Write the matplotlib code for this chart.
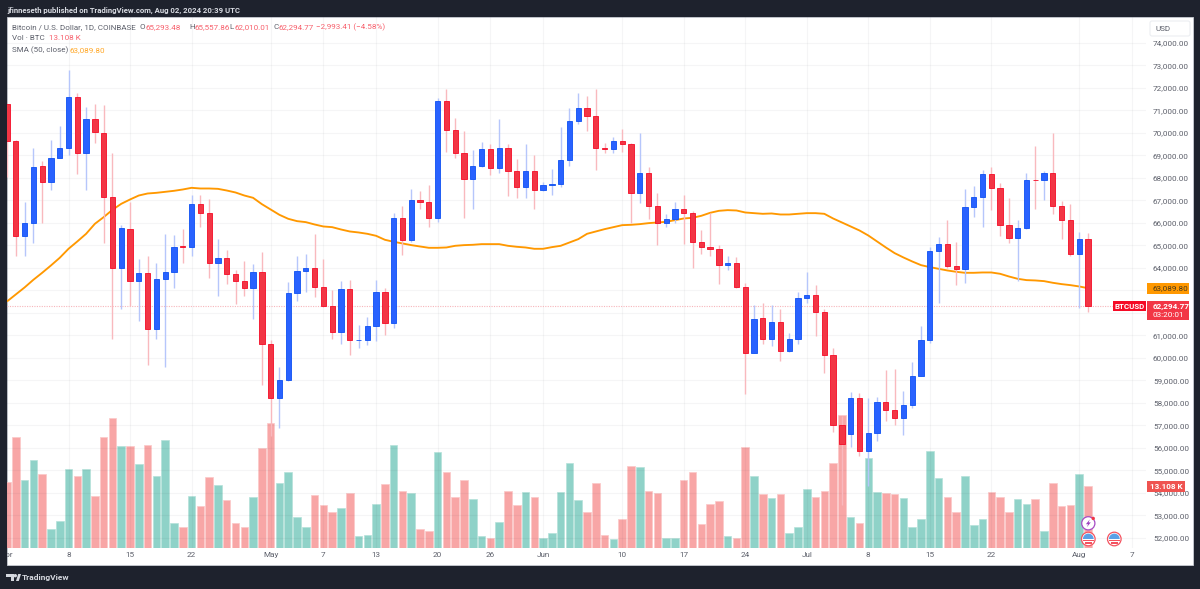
import numpy as np
import pandas as pd
import matplotlib
matplotlib.use("Agg")
import matplotlib.dates as mdates
from matplotlib import pyplot as plt
from matplotlib.patches import Circle, Polygon, Rectangle, FancyBboxPatch, Wedge
from matplotlib.ticker import FuncFormatter
from matplotlib.transforms import Affine2D

# daily BTCUSD candles, 1 Apr - 2 Aug 2024
opens = [71280, 69640, 65430, 65970, 68510, 67820, 68870, 69330, 71590, 69110,
         70620, 70000, 67120, 64000, 65730, 63430, 63770, 61260, 63490, 63820,
         64960, 64920, 66820, 66410, 64230, 64440, 63730, 63420, 63080, 63820,
         60590, 58220, 59020, 62890, 63860, 63980, 63150, 62290, 61140, 63060,
         60770, 60800, 61430, 62910, 61520, 66220, 65240, 67030, 66900, 66230,
         71420, 70110, 69110, 67920, 68510, 69270, 68450, 69330, 68290, 67570, 68310,
         67450, 67680, 67720, 68780, 70530, 71100, 70760, 69320, 69290, 69610,
         69480, 67300, 68220, 66720, 66000, 66160, 66590, 66450, 65120, 64910,
         64830, 64100, 64220, 63140, 60230, 61760, 60810, 61570, 60310, 60840,
         62650, 62800, 62010, 60130, 57020, 56620, 58210, 55840, 56660, 58030,
         57690, 57300, 57880, 59200, 60800, 64750, 65060, 64080, 63950, 66690,
         67150, 68170, 67540, 65910, 65340, 65760, 67910, 67880, 68230, 66750, 66140,
         64590, 65293.48]
closes = [69640, 65430, 65970, 68480, 67820, 68870, 69330, 71590, 69110, 70620,
          70010, 67120, 64000, 65760, 63430, 63770, 61260, 63490, 63820, 64940,
          64930, 66820, 66410, 64230, 64440, 63730, 63420, 63080, 63820, 60590,
          58220, 59020, 62890, 63860, 63980, 63150, 62290, 61140, 63060, 60770,
          60800, 61430, 62910, 61520, 66220, 65240, 67030, 66900, 66230, 71420,
          70110, 69110, 67920, 68510, 69270, 68450, 69330, 68290, 67570, 68310, 67450,
          67680, 67720, 68780, 70530, 71100, 70760, 69300, 69290, 69610, 69480,
          67300, 68220, 66720, 66000, 66160, 66590, 66450, 65120, 64910, 64830,
          64100, 64220, 63140, 60230, 61740, 60810, 61570, 60310, 60840, 62650,
          62800, 62010, 60130, 57020, 56180, 58210, 55840, 56660, 58030, 57690,
          57300, 57880, 59200, 60800, 64750, 65060, 64080, 63950, 66690, 67150,
          68170, 67540, 65910, 65340, 65760, 67910, 67880, 68230, 66750, 66140, 64590,
          65288.18, 62294.77]
highs = [71280, 69680, 66910, 69310, 68740, 69670, 70310, 72780, 71760, 71150,
         71280, 71250, 69080, 65880, 66900, 64370, 64510, 64200, 65480, 65450,
         65710, 67240, 67210, 67060, 65270, 64770, 63880, 64310, 64160, 64710,
         60770, 59600, 63360, 64510, 64620, 65510, 64400, 63000, 63420, 63450,
         61460, 61820, 63450, 63090, 66450, 66750, 67480, 67390, 67680, 71550,
         71950, 70650, 70070, 69250, 69590, 69510, 70590, 69510, 68840, 69510, 69020,
         67830, 68390, 70260, 71080, 71770, 71620, 71950, 69520, 69820, 70160,
         69540, 69990, 68470, 67300, 66400, 66910, 67240, 66540, 65680, 66410,
         65000, 64510, 64480, 63310, 62350, 62440, 62350, 62160, 61090, 62910,
         63790, 63210, 62160, 60410, 57390, 58460, 58430, 58190, 58260, 59460,
         59510, 58530, 59830, 61400, 64930, 65370, 66110, 65120, 67490, 67620,
         68350, 68470, 67760, 67090, 66130, 68200, 69400, 68290, 69980, 66970, 66810,
         65570, 65557.86]
lows = [68050, 64530, 64500, 65080, 65970, 67460, 68870, 69020, 68170, 67460,
        69520, 65110, 60810, 62160, 62310, 61610, 59660, 60810, 59570, 63110,
        64230, 64500, 65800, 63540, 62720, 63290, 62370, 62720, 61740, 58800,
        56500, 56890, 58980, 62540, 62900, 62690, 62250, 60840, 60600, 60130,
        60440, 60560, 60720, 61020, 61300, 64570, 65120, 66620, 65830, 66050,
        69150, 68880, 66230, 66590, 68480, 68100, 68220, 67200, 67080, 67080, 66590,
        67390, 67250, 67570, 68530, 70380, 70080, 68320, 69110, 69110, 69150,
        66000, 66880, 66170, 64990, 65800, 65970, 65060, 64000, 64620, 64500,
        63290, 63880, 63110, 58400, 60200, 60620, 60530, 59850, 60260, 60600,
        62430, 60970, 59330, 56680, 53470, 56010, 55610, 54280, 56280, 57170,
        57020, 56550, 57760, 59170, 60660, 62410, 63980, 63230, 63300, 66260,
        65800, 66560, 65420, 65080, 63390, 65710, 66630, 67020, 66400, 65280, 64500,
        62200, 62010.01]
# volume in thousands of BTC
volumes = [13.96, 23.6, 14.53, 18.71, 15.66, 4.11, 5.81, 16.73, 15.24, 16.73,
           11.06, 23.6, 27.57, 21.62, 21.76, 17.79, 21.9, 15.38, 22.89, 5.24,
           4.54, 11.06, 9.0, 15.1, 13.32, 10.28, 5.39, 4.54, 10.77, 21.19,
           26.65, 13.75, 16.09, 6.52, 4.54, 11.34, 9.14, 7.58, 8.43, 11.62,
           2.48, 2.69, 9.28, 13.54, 21.9, 12.05, 11.76, 3.97, 3.69, 20.48,
           16.23, 10.91, 14.39, 10.49, 2.62, 2.2, 5.53, 12.05, 9.14, 11.91, 10.77,
           2.06, 3.12, 11.91, 18.14, 10.21, 7.73, 13.82, 2.69, 1.91, 6.24,
           17.43, 17.15, 12.05, 11.62, 2.06, 2.2, 14.53, 16.09, 5.1, 9.43,
           9.92, 2.48, 2.2, 21.47, 15.24, 11.48, 10.63, 11.48, 3.26, 4.39,
           12.47, 10.77, 12.19, 18.0, 28.21, 6.52, 5.39, 19.14, 11.91, 11.76,
           11.48, 10.63, 4.39, 6.24, 20.62, 14.81, 10.77, 7.73, 15.24, 4.82,
           6.09, 11.91, 10.91, 7.73, 10.49, 9.43, 10.35, 3.54, 13.75, 8.86, 9.14,
           15.66, 13.108]
sma50 = [62500, 62811, 63122, 63462, 63773, 64099, 64440, 64840, 65166, 65506,
         65951, 66247, 66573, 66839, 67032, 67209, 67298, 67328, 67372, 67417,
         67476, 67550, 67520, 67520, 67505, 67431, 67343, 67209, 67106, 66824,
         66587, 66350, 66173, 66069, 66025, 65921, 65832, 65802, 65699, 65610,
         65566, 65506, 65417, 65240, 65151, 65077, 65003, 64943, 64884, 64884,
         64899, 64973, 65003, 65018, 65047, 65047, 65047, 64973, 64929, 64899, 64840,
         64840, 64914, 64973, 65121, 65269, 65506, 65610, 65714, 65802, 65891,
         65906, 65936, 65980, 66010, 66039, 66113, 66187, 66217, 66306, 66439,
         66528, 66558, 66543, 66454, 66424, 66395, 66410, 66365, 66365, 66395,
         66424, 66424, 66395, 66187, 66010, 65832, 65654, 65432, 65166, 64899,
         64647, 64455, 64277, 64114, 64025, 63951, 63877, 63818, 63773, 63773,
         63788, 63788, 63729, 63610, 63507, 63448, 63433, 63403, 63329, 63270, 63225,
         63166, 63089.80]

price_ticks = list(range(52000, 75000, 1000))
# these two levels sit under the price boxes, so they carry no label
unlabelled_ticks = [62000, 63000]
tick_dates = ["2024-04-01", "2024-04-08", "2024-04-15", "2024-04-22", "2024-05-01",
              "2024-05-07", "2024-05-13", "2024-05-20", "2024-05-26", "2024-06-01",
              "2024-06-10", "2024-06-17", "2024-06-24", "2024-07-01", "2024-07-08",
              "2024-07-15", "2024-07-22", "2024-08-01", "2024-08-07"]
tick_labels = ["Apr", "8", "15", "22", "May", "7", "13", "20", "26", "Jun",
               "10", "17", "24", "Jul", "8", "15", "22", "Aug", "7"]

DARK = "#1e222d"
RED = "#f23645"
RED_EDGE = "#f50a25"
BLUE = "#2962ff"
BLUE_EDGE = "#0d50f2"
ORANGE = "#ff9800"
GRAY = "#5d606b"
TEXT_RED = "#f7606c"

plt.rcParams["font.family"] = ["Roboto", "DejaVu Sans"]
plt.rcParams["font.size"] = 5.8

fig = plt.figure(figsize=(12.00, 5.89), dpi=100, facecolor=DARK)
# pixel coordinates for the window chrome, origin at top left
pix = Affine2D().scale(1, -1).translate(0, 589)

fig.add_artist(Rectangle((7, 17), 1186, 548, transform=pix, fc="white", ec="#c9ccd4", lw=0.6, zorder=-1))

dates = mdates.date2num(pd.date_range("2024-04-01", "2024-08-02"))
o = np.array(opens)
c = np.array(closes)
up = c >= o

ax = fig.add_axes([7 / 1200, 1 - 548 / 589, 1139 / 1200, 531 / 589])
ax_vol = ax.twinx()
ax.yaxis.tick_right()
ax.set_zorder(ax_vol.get_zorder() + 1)
ax.patch.set_visible(False)
ax_vol.set_facecolor("white")
ax.set_axisbelow(True)

# volume pane shares the bottom of the price pane
ax_vol.bar(dates, volumes, width=0.86,
           color=np.where(up, "#8fd2c8", "#f8a6a6"), edgecolor=np.where(up, "#b5e2da", "#fbc8c8"), linewidth=0.5)
ax_vol.set_ylim(0, 112.9)
ax_vol.set_yticks([])

ax.plot(dates, sma50, color=ORANGE, lw=1.35, zorder=2, solid_capstyle="butt")
ax.axhline(closes[-1], color="#f7b6bb", lw=0.8, ls=(0, (1, 1.2)), zorder=1.5)

ax.vlines(dates, lows, highs, colors=np.where(up, "#b6c6fb", "#f9b9be"), lw=1.0, zorder=3)
ax.bar(dates, np.abs(c - o), bottom=np.minimum(o, c), width=0.6,
       color=np.where(up, BLUE, RED), edgecolor=np.where(up, BLUE_EDGE, RED_EDGE), linewidth=0.6, zorder=4)

ax.set_xlim(dates[0] + 0.03, dates[0] + 129.6)
ax.set_ylim(51542, 75142)
ax.set_yticks(price_ticks)
ax.yaxis.set_major_formatter(FuncFormatter(lambda v, _: "" if v in unlabelled_ticks else f"{v:,.2f}"))
ax.set_xticks(mdates.date2num(pd.to_datetime(tick_dates)))
ax.set_xticklabels(tick_labels)
ax.tick_params(axis="both", length=0, labelcolor=GRAY, labelsize=5.9)
ax.tick_params(axis="y", pad=5)
ax.tick_params(axis="x", pad=3)
ax.grid(True, color="#2a2e39", alpha=0.045, lw=0.8)
for a in (ax, ax_vol):
    for spine in a.spines.values():
        spine.set_visible(False)

# boxes on the price scale, placed from their values
scale = ax.get_yaxis_transform()
vol_scale = ax_vol.get_yaxis_transform()
box_h = 240
ax.add_patch(Rectangle((1.0005, sma50[-1] - box_h), 0.0375, 2 * box_h, transform=scale, fc=ORANGE, ec="none", clip_on=False, zorder=6))
ax.text(1.0061, sma50[-1], f"{sma50[-1]:,.2f}", transform=scale, color="#4a3a1a", va="center", size=5.9, zorder=7)
ax.add_patch(Rectangle((1.0005, closes[-1] - 620), 0.0375, 845, transform=scale, fc=RED, ec="none", clip_on=False, zorder=6))
ax.text(1.0061, closes[-1], f"{closes[-1]:,.2f}", transform=scale, color="white", va="center", size=5.9, weight="bold", zorder=7)
ax.text(1.0061, closes[-1] - 400, "03:20:01", transform=scale, color="white", va="center", size=5.9, zorder=7)
ax.add_patch(Rectangle((0.9712, closes[-1] - 235), 0.0287, 470, transform=scale, fc=RED_EDGE, ec="none", clip_on=False, zorder=6))
ax.text(0.9855, closes[-1], "BTCUSD", transform=scale, color="white", va="center", ha="center", size=5.7, weight="bold", zorder=7)
ax.add_patch(Rectangle((1.0005, volumes[-1] - 1.1), 0.034, 2.2, transform=vol_scale, fc="#ef5350", ec="none", clip_on=False, zorder=6))
ax.text(1.0175, volumes[-1], f"{volumes[-1]:.3f} K", transform=vol_scale, color="white", va="center", ha="center", size=5.9, weight="bold", zorder=7)

# dark strip hides what runs past the left edge of the panel
fig.add_artist(Rectangle((0, 17), 7, 548, transform=pix, fc=DARK, ec="none", zorder=10))

fig.text(7, 10, "jfinneseth published on TradingView.com, Aug 02, 2024 20:39 UTC",
         transform=pix, color="#d8dbe2", size=5.6, weight="bold", va="center", zorder=11)

# legend lines
legend_y = [27, 38.5, 50]
fig.text(12, legend_y[0], "Bitcoin / U.S. Dollar, 1D, COINBASE", transform=pix, color=GRAY, va="center", zorder=11)
chg = closes[-1] - closes[-2]
pct = chg / closes[-2] * 100
for x, letter, val in [(140, "O", opens[-1]), (189, "H", highs[-1]), (229, "L", lows[-1]), (273, "C", closes[-1])]:
    fig.text(x, legend_y[0], letter, transform=pix, color=GRAY, va="center", zorder=11)
    fig.text(x + 5.5, legend_y[0], f"{val:,.2f}", transform=pix, color=TEXT_RED, va="center", zorder=11)
fig.text(316, legend_y[0], f"\u2212{abs(chg):,.2f} (\u2212{abs(pct):.2f}%)", transform=pix, color=TEXT_RED, va="center", zorder=11)
fig.text(12, legend_y[1], "Vol \u00b7 BTC", transform=pix, color=GRAY, va="center", zorder=11)
fig.text(49, legend_y[1], f"{volumes[-1]:.3f} K", transform=pix, color=TEXT_RED, va="center", zorder=11)
fig.text(12, legend_y[2], "SMA (50, close)", transform=pix, color=GRAY, va="center", zorder=11)
fig.text(70, legend_y[2], f"{sma50[-1]:,.2f}", transform=pix, color="#ffa726", va="center", zorder=11)

# currency button
fig.add_artist(FancyBboxPatch((1150, 21), 40, 15, boxstyle="round,pad=0,rounding_size=2", transform=pix, fc="white", ec="#eceef2", lw=0.8, zorder=11))
fig.text(1155, 29, "USD", transform=pix, color=GRAY, size=5.9, va="center", zorder=12)


def flag_icon(x, y):
    fig.add_artist(Circle((x, y), 6.8, transform=pix, fc="white", ec="#f4525f", lw=0.9, zorder=11))
    fig.add_artist(Wedge((x, y), 5.4, 180, 360, transform=pix, fc="#5aa0e6", ec="none", zorder=12))
    for dy, half in [(0.8, 5.2), (3.4, 3.8)]:
        fig.add_artist(Rectangle((x - half, y + dy), 2 * half, 1.3, transform=pix, fc="#f4525f", ec="none", zorder=12))


# event markers under the last candles
fig.add_artist(Circle((1088.3, 523.3), 6.6, transform=pix, fc="white", ec="#a64bc4", lw=0.9, zorder=11))
fig.add_artist(Polygon([(1089.8, 519.4), (1085.9, 524.2), (1088.1, 524.2), (1086.8, 527.2), (1090.8, 522.4), (1088.6, 522.4)],
                       transform=pix, fc="#9c3fbf", ec="none", zorder=12))
fig.add_artist(Circle((1093.2, 518.4), 1.7, transform=pix, fc="#f23645", ec="none", zorder=12))
flag_icon(1088.3, 539)
flag_icon(1114.3, 539)

# logo and name in the footer
fig.add_artist(Polygon([(6, 574), (14, 574), (14, 581), (10.5, 581), (10.5, 577.2), (6, 577.2)], transform=pix, fc="#d5d8df", ec="none", zorder=11))
fig.add_artist(Circle((15.3, 575.7), 1.7, transform=pix, fc="#d5d8df", ec="none", zorder=11))
fig.add_artist(Polygon([(16, 581), (18.2, 574), (21, 574), (18.8, 581)], transform=pix, fc="#d5d8df", ec="none", zorder=11))
fig.text(22, 577.5, "TradingView", transform=pix, color="#d5d8df", size=6.0, weight="bold", va="center", zorder=11)

fig.savefig("out.png", dpi=100, facecolor=DARK)
